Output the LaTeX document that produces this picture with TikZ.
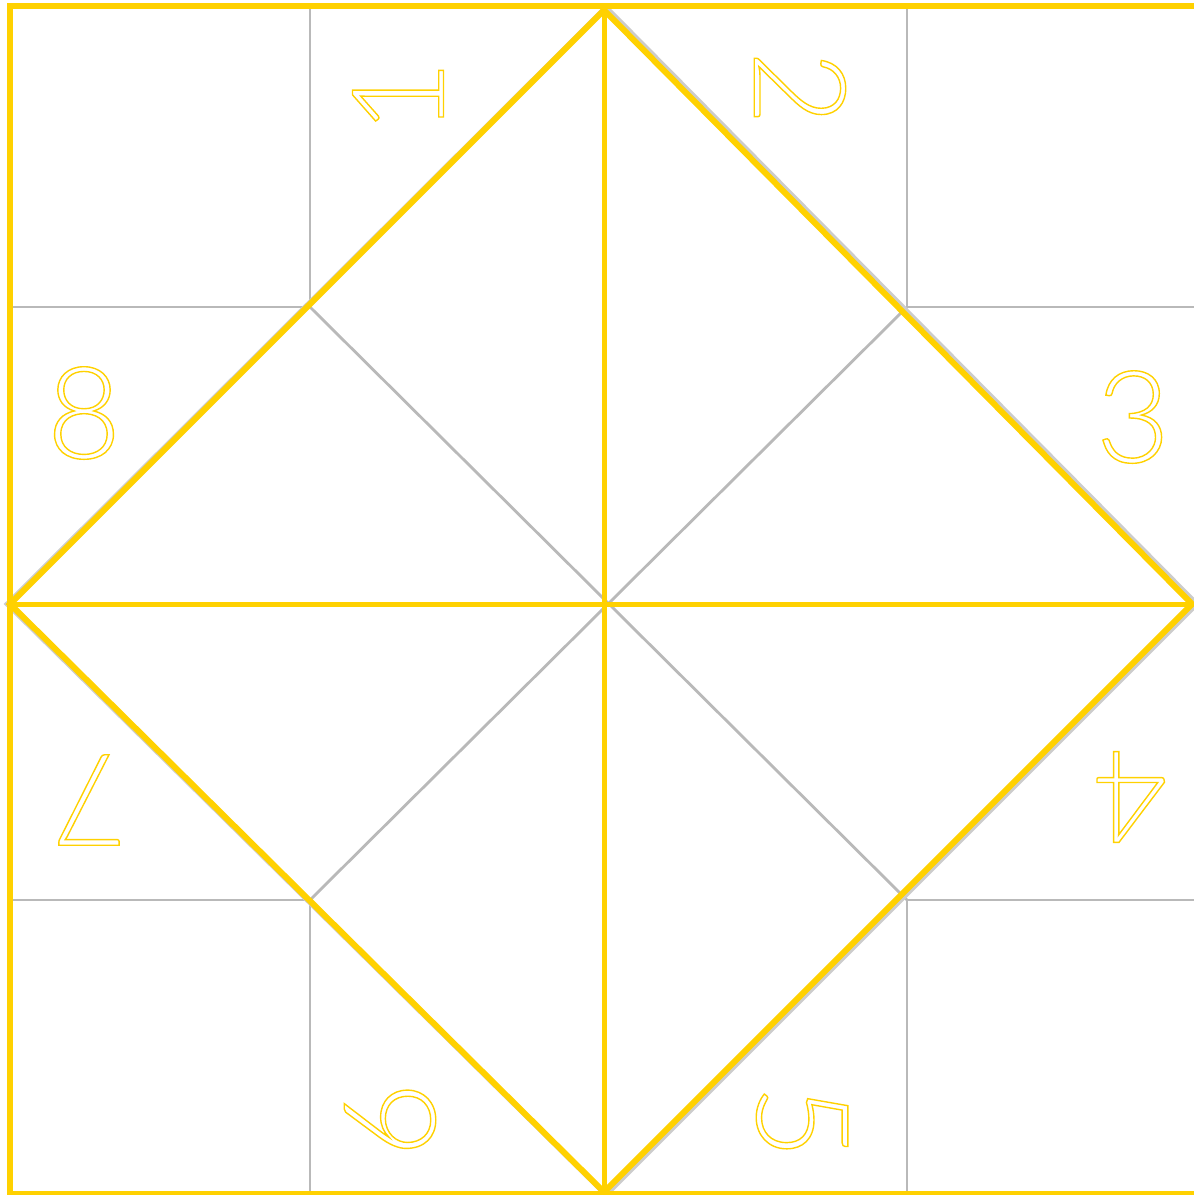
\documentclass[tikz,border=0pt]{standalone}
\usepackage{fontspec}
\newfontfamily\digfont{Lato Light}
\definecolor{gold}{HTML}{FFD100}
\newcommand{\outl}[1]{\special{pdf:code 1 Tr 0.7 w}#1\special{pdf:code 0 Tr}}
\tikzset{
  gridline/.style={draw=gray!55, line width=1.4pt},
  foldline/.style={draw=gray!55, line width=1.4pt},
  goldedge/.style={draw=gold, line width=3pt},
  goldcross/.style={draw=gold, line width=2.5pt},
  digit/.style={text=gold, font=\digfont\fontsize{64}{64}\selectfont, inner sep=0pt}
}
\begin{document}
\begin{tikzpicture}[x=0.5pt,y=-0.5pt]
\useasboundingbox (0,0) rectangle (1194,1195);
% corner coordinates
\coordinate (TL) at (10,6);
\coordinate (TR) at (1194,6);
\coordinate (BL) at (10,1194);
\coordinate (BR) at (1194,1194);
\coordinate (T) at (604,10);
\coordinate (R) at (1192,604);
\coordinate (B) at (604,1192);
\coordinate (L) at (10,604);
\coordinate (C) at (604,604);
\coordinate (q1) at (310,307);
\coordinate (q2) at (907,307);
\coordinate (q3) at (907,900);
\coordinate (q4) at (310,900);
% grey grid
\draw[gridline] (310,8) -- (q1) -- (10,307);
\draw[gridline] (907,8) -- (q2) -- (1194,307);
\draw[gridline] (10,900) -- (q4) -- (310,1192);
\draw[gridline] (907,1192) -- (q3) -- (1194,900);
\draw[foldline] (q1) -- (q3);
\draw[foldline] (q2) -- (q4);
\draw[foldline, draw=gray!40, line width=1.6pt] (606,6) -- (1198,604) -- (606,1196) -- (6,604) -- cycle;
% gold
\draw[goldedge] (TR) -- (TL) -- (BL) -- (BR);
\draw[goldcross] (T) -- (B);
\draw[goldcross] (L) -- (R);
\draw[goldedge, line join=miter] (T) -- (R) -- (B) -- (L) -- cycle;
% digits
\node[digit, rotate=90] (d1) at (398,97) {\outl{1}};
\node[digit, rotate=-90] (d2) at (800,88) {\outl{2}};
\node[digit] (d3) at (1133,417) {\outl{3}};
\node[digit, rotate=180] (d4) at (1130,797) {\outl{4}};
\node[digit, rotate=-90] (d5) at (802,1122) {\outl{5}};
\node[digit, rotate=90] (d6) at (390,1120) {\outl{6}};
\node[digit, rotate=180] (d7) at (90,800) {\outl{7}};
\node[digit] (d8) at (84,413) {\outl{8}};
\end{tikzpicture}
\end{document}
